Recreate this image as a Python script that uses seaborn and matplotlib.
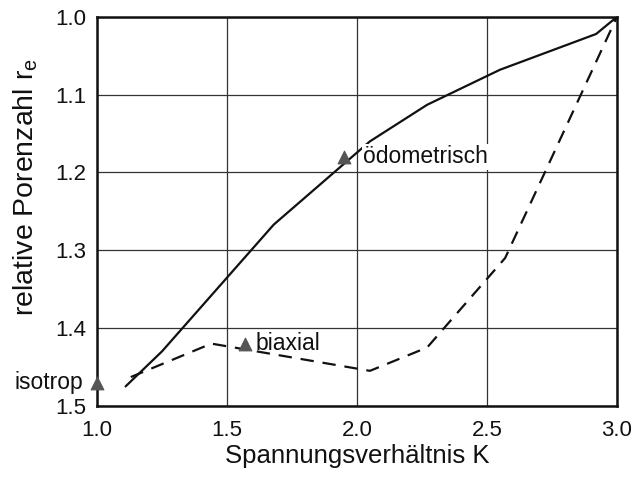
import matplotlib
matplotlib.use("Agg")
import matplotlib.pyplot as plt
import seaborn as sns
import pandas as pd

# Data
oedo_K = [1.11, 1.25, 1.68, 2.05, 2.27, 2.55, 2.92, 3.0]
oedo_re = [1.475, 1.43, 1.267, 1.16, 1.113, 1.068, 1.022, 1.0]
biax_K = [1.13, 1.44, 2.05, 2.27, 2.57, 3.0]
biax_re = [1.463, 1.42, 1.455, 1.425, 1.31, 1.0]
mark_K = [1.0, 1.57, 1.95]
mark_re = [1.47, 1.42, 1.18]
mark_labels = ["isotrop", "biaxial", "ödometrisch"]
x_ticks = [1.0, 1.5, 2.0, 2.5, 3.0]
y_ticks = [1.0, 1.1, 1.2, 1.3, 1.4, 1.5]

sns.set_theme(style="white")
plt.rcParams['font.family'] = ['Liberation Sans', 'DejaVu Sans']

fig = plt.figure(figsize=(6.36, 4.82), dpi=100)
ax = fig.add_axes([0.1525, 0.158, 0.8175, 0.807])

df1 = pd.DataFrame({"K": oedo_K, "re": oedo_re})
df2 = pd.DataFrame({"K": biax_K, "re": biax_re})
sns.lineplot(data=df1, x="K", y="re", ax=ax, color="#111111", lw=1.6, sort=False, zorder=3)
sns.lineplot(data=df2, x="K", y="re", ax=ax, color="#111111", lw=1.6, sort=False,
             linestyle=(0, (6, 4)), zorder=3)
dfm = pd.DataFrame({"K": mark_K, "re": mark_re})
sns.scatterplot(data=dfm, x="K", y="re", ax=ax, marker="^", s=85, color="#555555",
                edgecolor="#555555", zorder=5, clip_on=False)

ax.set_xlim(1.0, 3.0)
ax.set_ylim(1.5, 1.0)
ax.set_xticks(x_ticks)
ax.set_yticks(y_ticks)
ax.set_xticklabels([f"{v:.1f}" for v in x_ticks])
ax.set_yticklabels([f"{v:.1f}" for v in y_ticks])
ax.tick_params(axis="x", length=0, labelsize=16, colors="#111111", pad=10)
ax.tick_params(axis="y", length=0, labelsize=16, colors="#111111", pad=8)
ax.grid(True, color="#333333", lw=0.9)
for s in ax.spines.values():
    s.set_color("#111111")
    s.set_linewidth(1.8)

ax.set_xlabel("Spannungsverhältnis K", fontsize=18.5, color="#111111", labelpad=2)
ax.set_ylabel(r"relative Porenzahl r$_{\mathregular{e}}$", fontsize=20.5, color="#111111")
ax.yaxis.set_label_coords(-0.11, 0.562)

bbox = dict(facecolor="white", edgecolor="none", pad=1)
ax.text(0.947, 1.47, mark_labels[0], ha="right", va="center", fontsize=16.5, color="#111111")
ax.text(1.61, 1.42, mark_labels[1], ha="left", va="center", fontsize=16.5, color="#111111", zorder=4)
ax.text(2.025, 1.18, mark_labels[2], ha="left", va="center", fontsize=16.5, color="#111111", bbox=bbox, zorder=4)

fig.savefig("out.png", dpi=100)
